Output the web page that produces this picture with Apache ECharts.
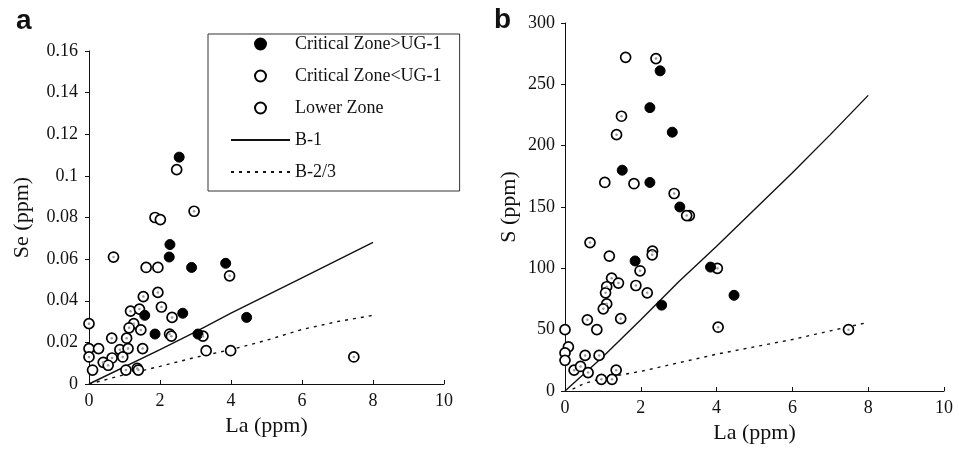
<!DOCTYPE html>
<html>
<head>
<meta charset="utf-8">
<script src="https://cdn.jsdelivr.net/npm/echarts@6/dist/echarts.min.js"></script>
<style>
html,body{margin:0;padding:0;background:#fff;}
#chart{width:959px;height:457px;}
</style>
</head>
<body>
<div id="chart"></div>
<script>
// ---------- data (La ppm, value) ----------
const seriesNames = ['Critical Zone>UG-1', 'Critical Zone<UG-1', 'Lower Zone', 'B-1', 'B-2/3'];
const xTicks = [0, 2, 4, 6, 8, 10];

// Panel a: Se (ppm) vs La (ppm)
const seCritAbove = [[2.54,0.109],[2.28,0.067],[2.26,0.061],[2.89,0.056],[3.85,0.058],[1.57,0.033],[2.64,0.034],[1.86,0.024],[4.44,0.032],[3.07,0.024]];
const seCritBelow = [[2.96,0.083],[0.69,0.061],[3.96,0.052],[1.94,0.044],[1.53,0.042],[2.04,0.037],[1.17,0.035],[1.42,0.036],[2.34,0.032],[0,0.029],[1.26,0.029],[1.13,0.027],[1.46,0.026],[1.06,0.022],[0.64,0.022],[2.27,0.024],[2.32,0.023],[3.21,0.023],[0.87,0.0165],[1.10,0.017],[1.51,0.017],[0,0.013],[0.65,0.0125],[0.95,0.013],[0.40,0.0104],[0.54,0.009],[1.04,0.0067],[1.36,0.0075],[1.39,0.0067],[7.46,0.013]];
const seLower = [[2.47,0.103],[1.86,0.080],[2.01,0.079],[1.61,0.056],[1.94,0.056],[0,0.017],[0.27,0.017],[3.30,0.016],[3.99,0.016],[0.10,0.0067]];
const seB1 = [[0,0],[2,0.0165],[3,0.025],[4,0.034],[6,0.051],[8,0.068]];
const seB23 = [[0,0],[0.5,0.0022],[1,0.0045],[1.4,0.006],[2,0.0085],[3,0.0128],[4,0.0165],[5,0.021],[6,0.0262],[7,0.030],[8,0.033]];
const seTicks = [0, 0.02, 0.04, 0.06, 0.08, 0.1, 0.12, 0.14, 0.16];

// Panel b: S (ppm) vs La (ppm)
const sCritAbove = [[2.51,261],[2.24,231],[2.83,211],[1.51,180],[2.24,170],[3.03,150],[1.85,106],[3.84,101],[4.46,78],[2.55,70]];
const sCritBelow = [[2.40,271],[1.49,224],[1.36,209],[2.88,161],[3.21,143],[0.66,121],[2.31,114],[2.30,111],[1.98,98],[4.02,100],[1.23,92],[1.41,88],[1.10,85],[1.07,80],[1.87,86],[2.17,80],[1.10,71],[1.01,67],[0.59,58],[1.47,59],[4.04,52],[0.53,29],[0.90,29],[0.24,17],[0.41,20],[0.61,15],[1.35,17],[0.96,9.5],[1.24,9.5],[7.48,50]];
const sLower = [[1.60,272],[1.05,170],[1.82,169],[3.28,143],[1.17,110],[0,50],[0.84,50],[0.09,36],[0,31],[0,25]];
const sB1 = [[0,0],[1,28],[2,58],[3,89],[4,118],[5,148],[6,178],[7,209],[8,241]];
const sB23 = [[0.2,1.5],[0.5,6],[1,10.5],[2,16],[3,23],[4,30],[5,36],[6,42],[7,49],[8,56]];
const sTicks = [0, 50, 100, 150, 200, 250, 300];

// ---------- chart ----------
const FONT = 'Liberation Serif';
const INK = '#111';

function xAxisFor(gridIndex, nameGap) {
  return {
    gridIndex, type: 'value', min: xTicks[0], max: xTicks[xTicks.length-1], interval: 2,
    name: 'La (ppm)', nameLocation: 'middle', nameGap,
    nameTextStyle: {fontFamily: FONT, fontSize: 22, color: INK},
    axisLine: {show: true, onZero: false, lineStyle: {color: INK, width: 1}},
    axisTick: {show: true, inside: true, length: 4, lineStyle: {color: INK}},
    axisLabel: {fontFamily: FONT, fontSize: 18, color: INK, margin: 8},
    splitLine: {show: false}
  };
}
function yAxisFor(gridIndex, ticks, name, nameGap, margin) {
  return {
    gridIndex, type: 'value', min: ticks[0], max: ticks[ticks.length-1], interval: ticks[1]-ticks[0],
    name, nameLocation: 'middle', nameGap,
    nameTextStyle: {fontFamily: FONT, fontSize: 22, color: INK},
    axisLine: {show: true, onZero: false, lineStyle: {color: INK, width: 1}},
    axisTick: {show: true, inside: false, length: 4, lineStyle: {color: INK}},
    axisLabel: {fontFamily: FONT, fontSize: 18, color: INK, margin},
    splitLine: {show: false}
  };
}
const SYM = 10;
function filled(name, data, idx) {
  return {name, type: 'scatter', xAxisIndex: idx, yAxisIndex: idx, data, symbol: 'circle', symbolSize: SYM,
    itemStyle: {color: '#000', borderColor: '#000', borderWidth: 1, opacity: 1}, z: 4};
}
function open(name, data, idx) {
  return {name, type: 'scatter', xAxisIndex: idx, yAxisIndex: idx, data, symbol: 'circle', symbolSize: SYM,
    itemStyle: {color: '#fff', borderColor: '#000', borderWidth: 1.7, opacity: 1}, z: 3};
}
function dots(data, idx) {
  return {name: '_dots' + idx, type: 'scatter', xAxisIndex: idx, yAxisIndex: idx, data, symbol: 'circle', symbolSize: 2.5,
    itemStyle: {color: '#999', opacity: 1}, silent: true, z: 5};
}
function line(name, data, idx, dashed) {
  return {name, type: 'line', xAxisIndex: idx, yAxisIndex: idx, data, symbol: 'none', showSymbol: false,
    lineStyle: {color: '#111', width: 1.4, type: dashed ? [3, 5] : 'solid'}, itemStyle: {color: '#111'}, z: 2, silent: true};
}

const legendData = seriesNames.map(n => (n === 'B-1' || n === 'B-2/3')
  ? {name: n, itemStyle: {opacity: 0}}
  : {name: n});

const chart = echarts.init(document.getElementById('chart'), null, {renderer: 'canvas'});
chart.setOption({
  animation: false,
  backgroundColor: '#fff',
  grid: [
    {left: 89, top: 51, width: 355, height: 333},
    {left: 565, top: 23, width: 379, height: 368}
  ],
  xAxis: [xAxisFor(0, 26), xAxisFor(1, 21)],
  yAxis: [yAxisFor(0, seTicks, 'Se (ppm)', 56, 11), yAxisFor(1, sTicks, 'S (ppm)', 45, 10)],
  legend: {
    data: legendData,
    orient: 'vertical', left: 208, top: 34,
    itemWidth: 59, itemHeight: 11, itemGap: 12,
    padding: [0, 18, 9, 22],
    borderColor: '#333', borderWidth: 1,
    selectedMode: false,
    textStyle: {fontFamily: FONT, fontSize: 18, color: INK, lineHeight: 20}
  },
  graphic: [
    {type: 'text', left: 16, top: 7, style: {text: 'a', font: 'bold 28px "Liberation Sans"', fill: INK}},
    {type: 'text', left: 494, top: 6, style: {text: 'b', font: 'bold 28px "Liberation Sans"', fill: INK}}
  ],
  series: [
    line('B-1', seB1, 0, false),
    line('B-2/3', seB23, 0, true),
    open('Lower Zone', seLower, 0),
    open('Critical Zone<UG-1', seCritBelow, 0),
    dots(seCritBelow, 0),
    filled('Critical Zone>UG-1', seCritAbove, 0),
    line('B-1', sB1, 1, false),
    line('B-2/3', sB23, 1, true),
    open('Lower Zone', sLower, 1),
    open('Critical Zone<UG-1', sCritBelow, 1),
    dots(sCritBelow, 1),
    filled('Critical Zone>UG-1', sCritAbove, 1)
  ]
});
</script>
</body>
</html>
